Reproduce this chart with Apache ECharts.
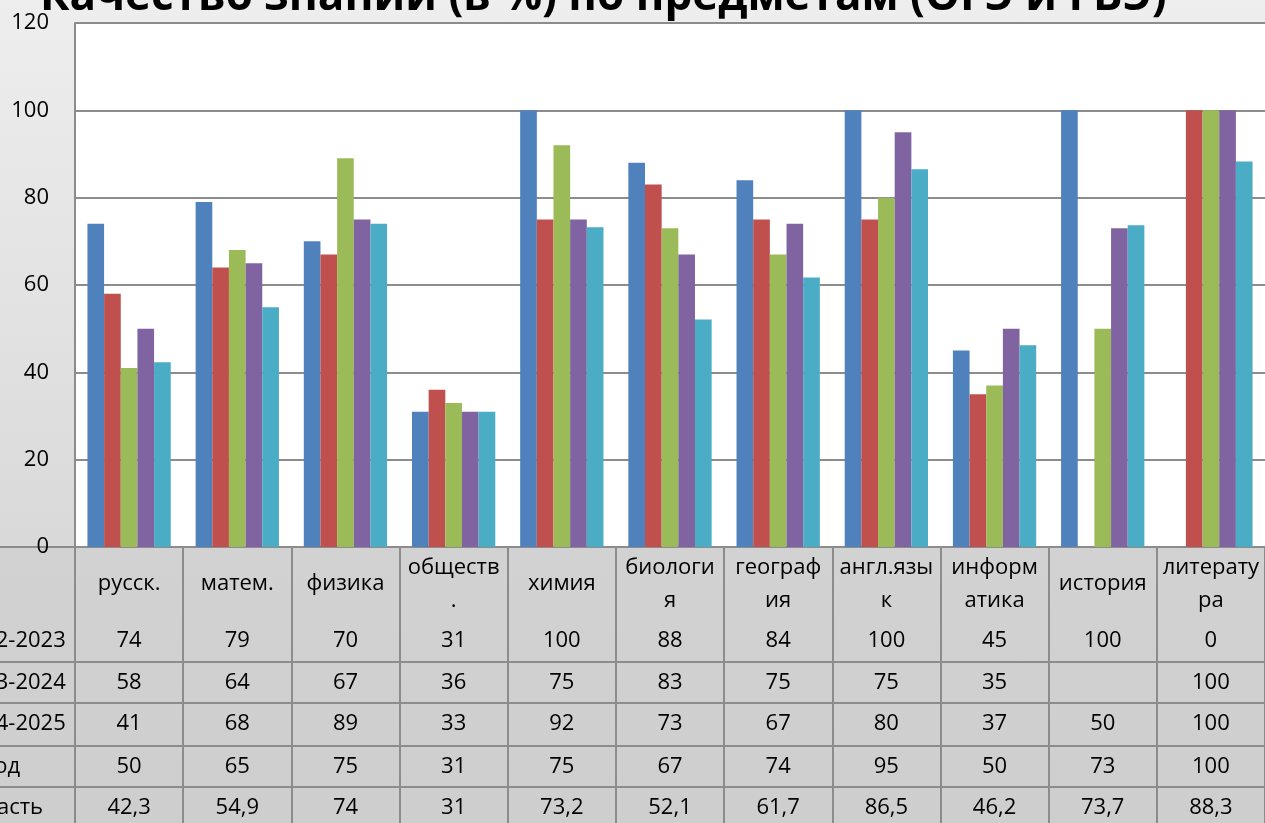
<!DOCTYPE html>
<html>
<head>
<meta charset="utf-8">
<script src="https://cdn.jsdelivr.net/npm/echarts@6/dist/echarts.min.js"></script>
<style>
html,body{margin:0;padding:0;}
#chart{width:1265px;height:823px;background:linear-gradient(to bottom,#eeeeee 0px,#d9d9d9 547px,#d2d2d2 547px,#cecece 823px);}
</style>
</head>
<body>
<div id="chart"></div>
<script>
const titleText = 'Качество знаний (в %) по предметам (ОГЭ и ГВЭ)';
const subjects = ['русск.', 'матем.', 'физика', 'обществ\n.', 'химия', 'биологи\nя', 'географ\nия', 'англ.язы\nк', 'информ\nатика', 'история', 'литерату\nра'];
const seriesNames = ['2022-2023', '2023-2024', '2024-2025', 'город', 'область'];
const y2023 = [74, 79, 70, 31, 100, 88, 84, 100, 45, 100, 0];
const y2024 = [58, 64, 67, 36, 75, 83, 75, 75, 35, null, 100];
const y2025 = [41, 68, 89, 33, 92, 73, 67, 80, 37, 50, 100];
const city = [50, 65, 75, 31, 75, 67, 74, 95, 50, 73, 100];
const region = [42.3, 54.9, 74, 31, 73.2, 52.1, 61.7, 86.5, 46.2, 73.7, 88.3];
const yTicks = {min: 0, max: 120, interval: 20};

const seriesData = [y2023, y2024, y2025, city, region];
const colors = ['#4F81BD', '#C0504D', '#9BBB59', '#8064A2', '#4BACC6'];
const FONT = 'Open Sans';
const lineCol = '#8c8c8c';

const W = 1265, PLOT_LEFT = 75;
const nCat = subjects.length;
const catW = (W - PLOT_LEFT) / nCat;
// table axis spans the full width; index 0 = row-name column, 1..n = subjects
const tableMin = 0.5 - PLOT_LEFT / catW;
const tableMax = nCat + 0.5;
const rowNameCenter = PLOT_LEFT - catW / 2;
const rowNameLeft = -42;
const rowNameBoxW = 2 * (rowNameCenter - rowNameLeft);

const fmt = v => (v === null || v === undefined) ? '' : String(v).replace('.', ',');

const rowOffsets = [73, 115, 156, 199, 240];

const xAxes = [{
  type: 'category', gridIndex: 0, data: subjects, position: 'bottom',
  axisLine: {show: true, lineStyle: {color: lineCol, width: 2}},
  axisTick: {show: true, alignWithLabel: false, interval: 0, length: 276, lineStyle: {color: lineCol, width: 2}},
  axisLabel: {interval: 0, margin: 37, verticalAlign: 'middle', lineHeight: 33, fontSize: 22, fontFamily: FONT, color: '#000'}
}];
const idx = [0].concat(subjects.map((s, i) => i + 1));
seriesData.forEach((arr, i) => {
  const row = [seriesNames[i]].concat(arr.map(fmt));
  xAxes.push({
    type: 'value', gridIndex: 1, position: 'bottom', offset: rowOffsets[i],
    min: tableMin, max: tableMax,
    axisLine: {show: true, lineStyle: {color: lineCol, width: 2}},
    axisTick: {show: false},
    splitLine: {show: false},
    axisLabel: {
      customValues: idx, margin: 21, verticalAlign: 'middle', fontSize: 22, fontFamily: FONT, color: '#000',
      showMinLabel: true, showMaxLabel: true, hideOverlap: false,
      formatter: v => {
        const k = Math.round(v);
        if (k === 0) return '{n|' + row[0] + '}';
        return row[k] || '';
      },
      rich: {n: {width: rowNameBoxW, align: 'left', fontSize: 22, fontFamily: FONT, color: '#000'}}
    }
  });
});

const chart = echarts.init(document.getElementById('chart'), null, {renderer: 'canvas'});
chart.setOption({
  animation: false,
  backgroundColor: 'transparent',
  title: {
    text: titleText, left: 35, top: -30,
    textStyle: {fontSize: 44, fontWeight: 'bold', fontFamily: FONT, color: '#000'}
  },
  grid: [
    {left: PLOT_LEFT, right: 0, top: 23, height: 524, show: true, backgroundColor: '#ffffff', borderWidth: 0,
     containLabel: false, outerBoundsMode: 'none'},
    {left: 0, right: 0, top: 546, height: 1, show: false, containLabel: false, outerBoundsMode: 'none'}
  ],
  xAxis: xAxes,
  yAxis: [
    {type: 'value', gridIndex: 0, min: yTicks.min, max: yTicks.max, interval: yTicks.interval,
     axisLine: {show: true, lineStyle: {color: lineCol, width: 2}},
     axisTick: {show: false},
     splitLine: {show: true, lineStyle: {color: lineCol, width: 2}},
     axisLabel: {margin: 26, fontSize: 22, fontFamily: FONT, color: '#000'}},
    {type: 'value', gridIndex: 1, show: false}
  ],
  series: seriesData.map((arr, i) => ({
    name: seriesNames[i], type: 'bar', xAxisIndex: 0, yAxisIndex: 0,
    data: arr, barGap: '0%', barCategoryGap: '23%',
    itemStyle: {color: colors[i]}
  }))
});
</script>
</body>
</html>
